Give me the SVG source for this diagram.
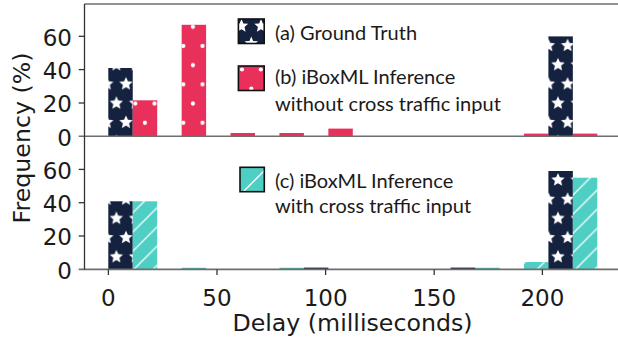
<svg xmlns="http://www.w3.org/2000/svg" xmlns:xlink="http://www.w3.org/1999/xlink" width="618" height="339" viewBox="0 0 618 339">
<style>
.tick{font-family:"DejaVu Sans",sans-serif;font-size:23px;fill:#1a1a1a}
.title{font-family:"DejaVu Sans",sans-serif;font-size:23.7px;fill:#1a1a1a;text-anchor:middle}
.ylab{text-anchor:end}
.xlab{text-anchor:middle}
.leg{font-family:Lato,"Open Sans",sans-serif;font-size:20px;fill:#1a1a1a}
.spine{stroke:#333;stroke-width:1.3;fill:none}
.hline{stroke:#6e6e6e;stroke-width:1.6;fill:none}
.gt{fill:url(#pStar)}
.rd{fill:url(#pDot)}
.tl{fill:url(#pHatch)}
.lbox{fill:none;stroke:#111;stroke-width:1.6}
</style>
<defs>
<path id="star" d="M0,-7L1.88,-2.59L6.66,-2.16L3.04,0.99L4.11,5.66L0,3.2L-4.11,5.66L-3.04,0.99L-6.66,-2.16L-1.88,-2.59Z" fill="#fff"/>
<pattern id="pStar" patternUnits="userSpaceOnUse" x="116.4" y="64.8" width="19.2" height="38.4">
<rect width="19.2" height="38.4" fill="#14213f"/>
<use xlink:href="#star" x="0" y="0"/><use xlink:href="#star" x="19.2" y="0"/>
<use xlink:href="#star" x="0" y="38.4"/><use xlink:href="#star" x="19.2" y="38.4"/>
<use xlink:href="#star" x="9.6" y="19.2"/>
</pattern>
<pattern id="pDot" patternUnits="userSpaceOnUse" x="183.3" y="46" width="19.2" height="38.4">
<rect width="19.2" height="38.4" fill="#e8305b"/>
<g fill="#fff"><circle cx="0" cy="0" r="2.1"/><circle cx="19.2" cy="0" r="2.1"/><circle cx="0" cy="38.4" r="2.1"/><circle cx="19.2" cy="38.4" r="2.1"/><circle cx="9.6" cy="19.2" r="2.1"/></g>
</pattern>
<pattern id="pHatch" patternUnits="userSpaceOnUse" x="0" y="0" width="19.2" height="19.2">
<rect width="19.2" height="19.2" fill="#4fcfc4"/>
<path d="M-3,3L3,-3M0,19.2L19.2,0M16.2,22.2L22.2,16.2" stroke="#fff" stroke-width="1.4" opacity="0.9"/>
</pattern>
<clipPath id="cA"><rect x="238.4" y="19" width="25.8" height="24.5"/></clipPath>
<clipPath id="cB"><rect x="238.4" y="66" width="25.8" height="24.5"/></clipPath>
<clipPath id="cC"><rect x="240" y="167.3" width="24.3" height="24.4"/></clipPath>
</defs>
<rect width="618" height="339" fill="#fff"/>

<g id="bars-top">
<rect class="gt" x="108.3" y="68" width="24.45" height="68.3"/>
<rect class="rd" x="132.75" y="100.3" width="24.45" height="36"/>
<rect class="rd" x="181.65" y="24.8" width="24.45" height="111.5"/>
<rect class="rd" x="230.55" y="133" width="24.45" height="3.3"/>
<rect class="rd" x="279.45" y="133" width="24.45" height="3.3"/>
<rect class="rd" x="328.35" y="128.6" width="24.45" height="7.7"/>
<rect class="rd" x="523.95" y="133.6" width="24.45" height="2.7"/>
<rect class="gt" x="548.4" y="36.4" width="24.45" height="99.9"/>
<rect class="rd" x="572.85" y="133.6" width="24.45" height="2.7"/>
</g>

<g id="bars-bottom">
<rect class="gt" x="108.3" y="201.3" width="24.45" height="68"/>
<rect class="tl" x="132.75" y="201.3" width="24.45" height="68"/>
<rect x="181.65" y="267.8" width="24.45" height="1.5" fill="#3fb8ad"/>
<rect x="279.45" y="267.8" width="24.45" height="1.5" fill="#3fb8ad"/>
<rect x="303.9" y="267.6" width="24.45" height="1.7" fill="#14213f"/>
<rect x="450.6" y="267.6" width="24.45" height="1.7" fill="#14213f"/>
<rect x="475.05" y="267.8" width="24.45" height="1.5" fill="#3fb8ad"/>
<rect class="tl" x="523.95" y="262" width="24.45" height="7.3"/>
<rect class="gt" x="548.4" y="171" width="24.45" height="98.3"/>
<rect class="tl" x="572.85" y="177.7" width="24.45" height="91.6"/>
</g>

<g id="axes">
<line class="hline" x1="84.5" y1="4" x2="618" y2="4"/>
<line class="hline" x1="78.7" y1="136.3" x2="618" y2="136.3"/>
<line class="hline" x1="78.7" y1="269.4" x2="618" y2="269.4"/>
<line class="spine" x1="84.5" y1="4" x2="84.5" y2="269.4"/>
<g class="spine">
<line x1="78.7" y1="36.3" x2="84.5" y2="36.3"/>
<line x1="78.7" y1="69.6" x2="84.5" y2="69.6"/>
<line x1="78.7" y1="103" x2="84.5" y2="103"/>
<line x1="78.7" y1="169.4" x2="84.5" y2="169.4"/>
<line x1="78.7" y1="202.7" x2="84.5" y2="202.7"/>
<line x1="78.7" y1="236" x2="84.5" y2="236"/>
<line x1="108.4" y1="269.4" x2="108.4" y2="275"/>
<line x1="217" y1="269.4" x2="217" y2="275"/>
<line x1="325.6" y1="269.4" x2="325.6" y2="275"/>
<line x1="434.2" y1="269.4" x2="434.2" y2="275"/>
<line x1="542.4" y1="269.4" x2="542.4" y2="275"/>
</g>
<g class="tick ylab">
<text x="72" y="45.5">60</text>
<text x="72" y="78.8">40</text>
<text x="72" y="112.2">20</text>
<text x="72" y="145.5">0</text>
<text x="72" y="178.6">60</text>
<text x="72" y="211.9">40</text>
<text x="72" y="245.2">20</text>
<text x="72" y="278.6">0</text>
</g>
<g class="tick xlab">
<text x="108.4" y="305.5">0</text>
<text x="217" y="305.5">50</text>
<text x="325.6" y="305.5">100</text>
<text x="434.2" y="305.5">150</text>
<text x="542.4" y="305.5">200</text>
</g>
<text class="title" x="352.5" y="331">Delay (milliseconds)</text>
<text class="title" transform="translate(30,138) rotate(-90)">Frequency (%)</text>
</g>

<g id="legend-a">
<g clip-path="url(#cA)">
<rect x="238.4" y="19" width="25.8" height="24.5" fill="#14213f"/>
<use xlink:href="#star" x="241.5" y="26"/><use xlink:href="#star" x="261" y="26"/><use xlink:href="#star" x="251.3" y="43.5"/>
</g>
<rect class="lbox" x="238.4" y="19" width="25.8" height="24.5"/>
<text class="leg" x="275" y="39.5">(a) Ground Truth</text>
</g>

<g id="legend-b">
<g clip-path="url(#cB)">
<rect x="238.4" y="66" width="25.8" height="24.5" fill="#e8305b"/>
<g fill="#fff"><circle cx="242" cy="69.5" r="2.1"/><circle cx="260.8" cy="69.5" r="2.1"/><circle cx="251.3" cy="88.5" r="2.1"/></g>
</g>
<rect class="lbox" x="238.4" y="66" width="25.8" height="24.5"/>
<text class="leg" x="275" y="84.3">(b) iBoxML Inference</text>
<text class="leg" x="275" y="110.5">without cross traffic input</text>
</g>

<g id="legend-c">
<g clip-path="url(#cC)">
<rect x="240" y="167.3" width="24.3" height="24.4" fill="#4fcfc4"/>
<path d="M243,192L265,170" stroke="#fff" stroke-width="1.4"/>
</g>
<rect class="lbox" x="240" y="167.3" width="24.3" height="24.4"/>
<text class="leg" x="275" y="187.8">(c) iBoxML Inference</text>
<text class="leg" x="275" y="213">with cross traffic input</text>
</g>
</svg>
